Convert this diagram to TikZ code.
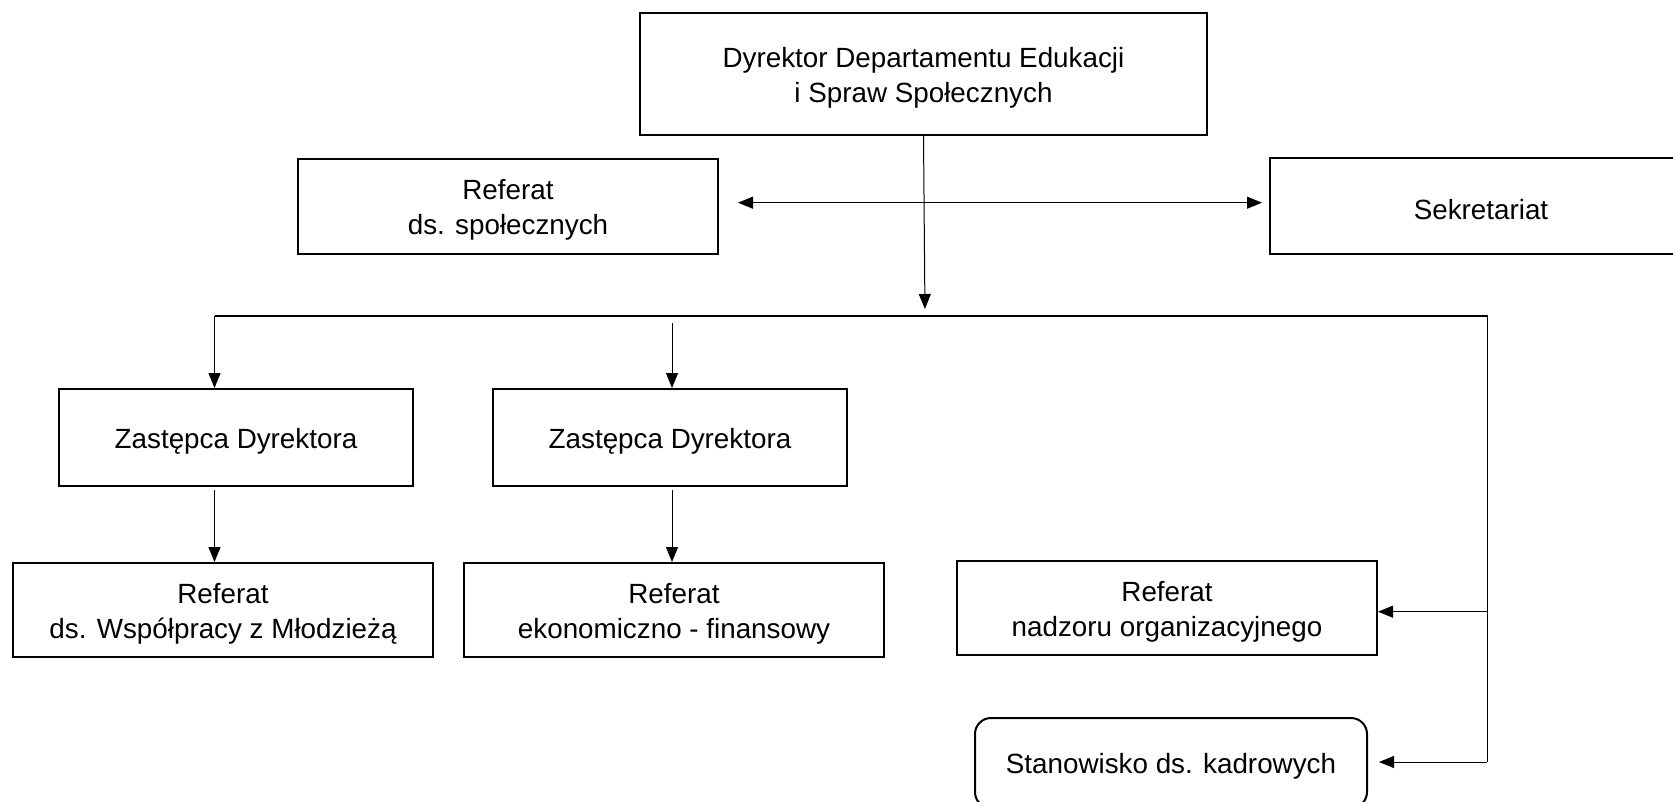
\documentclass[tikz,border=0pt]{standalone}
\usepackage{fontspec}
\setmainfont{Liberation Sans}
\usetikzlibrary{arrows.meta}
\tikzstyle{chart} = [x = 1pt, y = -1pt]
\tikzstyle{boxStyle} = [draw, line width = 2pt, inner sep = 0pt]
\tikzstyle{roundBoxStyle} = [boxStyle, rounded corners = 16pt]
\tikzstyle{boxText} = [align = center, inner sep = 0pt, yshift = -3.5pt, font = \fontsize{27.8}{35}\selectfont]
\tikzstyle{linkLine} = [line width = 1pt]
\tikzstyle{arrowLine} = [linkLine, -{Triangle[length = 15pt, width = 12pt]}]
\tikzstyle{twoWayLine} = [linkLine, {Triangle[length = 15pt, width = 12pt]}-{Triangle[length = 15pt, width = 12pt]}]
\newcommand{\orgBox}[7][boxStyle]{\node [#1, minimum width = #5pt, minimum height = #6pt, label = {[boxText]center:{#7}}] (#2) at (#3, #4) {};}

\begin{document}
\begin{tikzpicture}[chart]
  \useasboundingbox (0,0) rectangle (1673,802);

  % boxes
  \orgBox{dyr}{923.5}{74}{567}{122}{Dyrektor Departamentu Edukacji\\i Spraw Społecznych}
  \orgBox{spol}{508}{206.5}{420}{95}{Referat\\ds. społecznych}
  \orgBox{sekr}{1481}{206}{422}{96}{Sekretariat}
  \orgBox{zastA}{236}{437.5}{354}{97}{Zastępca Dyrektora}
  \orgBox{zastB}{670}{437.5}{354}{97}{Zastępca Dyrektora}
  \orgBox{wsp}{223}{610}{420}{94}{Referat\\ds. Współpracy z Młodzieżą}
  \orgBox{ekon}{674}{610}{420}{94}{Referat\\ekonomiczno - finansowy}
  \orgBox{nadz}{1167}{608}{420}{94}{Referat\\nadzoru organizacyjnego}
  \orgBox[roundBoxStyle]{stan}{1171}{763}{392}{90}{Stanowisko ds. kadrowych}

  % bus points
  \coordinate (crossRow) at (925, 202.7);
  \coordinate (busTop) at (925, 316);
  \coordinate (busL) at (214.5, 316);
  \coordinate (busMid) at (672, 316);
  \coordinate (busR) at (1487, 316);
  \coordinate (busEnd) at (1487, 762);

  % connectors
  \draw [arrowLine, shorten >= 7pt] (dyr.south) -- (busTop);
  \draw [twoWayLine, shorten <= 19pt, shorten >= 7pt] (crossRow -| spol.east) -- (crossRow -| sekr.west);
  \draw [linkLine] (busL) -- (busR) -- (busEnd);
  \draw [arrowLine] (busL) -- (busL |- zastA.north);
  \draw [arrowLine, shorten <= 7pt] (busMid) -- (busMid |- zastB.north);
  \draw [arrowLine, shorten <= 3pt] (zastA.south -| busL) -- (wsp.north -| busL);
  \draw [arrowLine, shorten <= 3pt] (zastB.south -| busMid) -- (ekon.north -| busMid);
  \draw [arrowLine] (busR |- 0, 611.7) -- (nadz.east |- 0, 611.7);
  \draw [arrowLine, shorten >= 11pt] (busEnd) -- (busEnd -| stan.east);
\end{tikzpicture}
\end{document}
